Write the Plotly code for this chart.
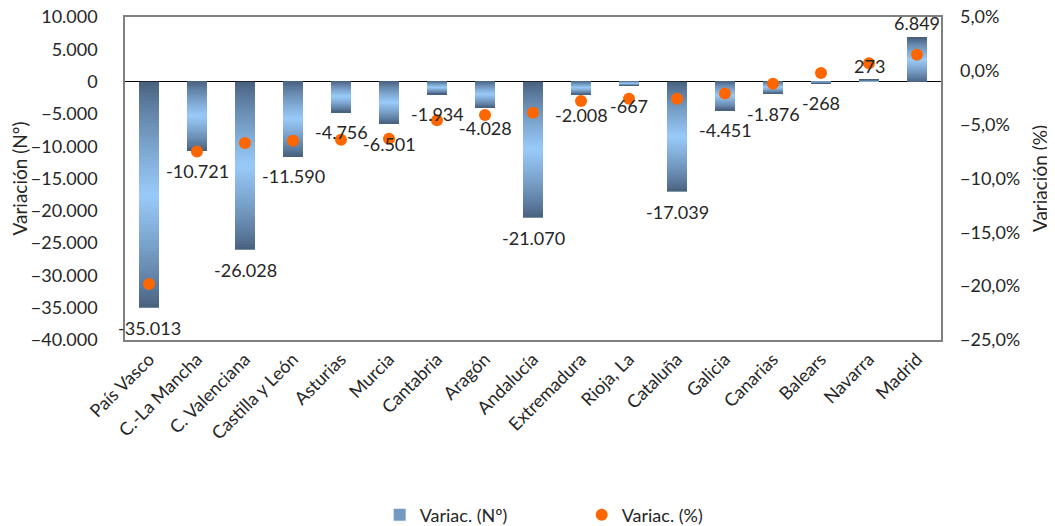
import plotly.graph_objects as go

# datos por comunidad autónoma
comunidades = ["País Vasco", "C.-La Mancha", "C. Valenciana", "Castilla y León", "Asturias",
               "Murcia", "Cantabria", "Aragón", "Andalucía", "Extremadura", "Rioja, La",
               "Cataluña", "Galicia", "Canarias", "Balears", "Navarra", "Madrid"]
variac_num = [-35013, -10721, -26028, -11590, -4756, -6501, -1934, -4028, -21070,
              -2008, -667, -17039, -4451, -1876, -268, 273, 6849]
variac_pct = [-19.8, -7.5, -6.7, -6.5, -6.4, -6.3, -4.6, -4.1, -3.9,
              -2.8, -2.6, -2.6, -2.1, -1.2, -0.2, 0.7, 1.5]

FONT = "Lato"
TXT = "#262626"
dark = (70, 94, 124)
light = (153, 203, 250)

fig = go.Figure()

# barras con degradado vertical (oscuro en los extremos, claro en el centro):
# cada barra se parte en tramos; cada tramo solapa un poco el siguiente
n_seg = 60
for k in range(n_seg):
    t = (k + 0.5) / n_seg
    f = (1 - abs(2 * t - 1)) ** 0.8
    col = "rgb(%d,%d,%d)" % tuple(int(d + (l - d) * f) for d, l in zip(dark, light))
    top = min(k + 1.5, n_seg)
    fig.add_trace(go.Bar(
        x=comunidades,
        y=[v * (top - k) / n_seg for v in variac_num],
        base=[v * k / n_seg for v in variac_num],
        width=20 / 48,
        marker=dict(color=col, line=dict(width=0)),
        name="Variac. (Nº)",
        showlegend=(k == 14),
        legendrank=1,
        hoverinfo="skip",
    ))

fig.add_trace(go.Scatter(
    x=comunidades, y=variac_pct, yaxis="y2", mode="markers",
    marker=dict(color="#ff6600", size=12),
    name="Variac. (%)", legendrank=2,
))

# etiquetas de valor
for c, v in zip(comunidades, variac_num):
    fig.add_annotation(
        x=c, y=v, text=f"{v:,}".replace(",", "."), showarrow=False,
        yshift=-20 if v < 0 else 14, font=dict(family=FONT, size=18, color=TXT),
    )

# la página tiene 8 px de margen en el body: la figura se desplaza 8 px
fig.update_layout(
    width=1047, height=518,
    margin=dict(l=117, r=114, t=9, b=186, autoexpand=False),
    paper_bgcolor="white", plot_bgcolor="white",
    barmode="overlay",
    separators=",.",
    font=dict(family=FONT, size=18, color=TXT),
    showlegend=True,
    legend=dict(orientation="h", xref="container", x=0.355, xanchor="left",
                yref="container", y=0.021, yanchor="middle",
                font=dict(size=18), itemwidth=30, entrywidth=157,
                traceorder="normal"),
    xaxis=dict(tickangle=-45, showline=True, linecolor="#808080", linewidth=1.5,
               mirror=True, ticks="", showgrid=False, tickfont=dict(size=18),
               range=[-0.5, len(comunidades) - 0.5], automargin=False),
    yaxis=dict(range=[-40000, 10000], dtick=5000, tickformat=",d", showgrid=False,
               zeroline=True, zerolinecolor="black", zerolinewidth=1,
               showline=True, linecolor="#808080", linewidth=1.5, mirror=True,
               ticks="", ticklabelstandoff=22, ticklabeloverflow="allow",
               automargin=False,
               title=dict(text="Variación (Nº)", standoff=6, font=dict(size=19))),
    yaxis2=dict(overlaying="y", side="right", range=[-25, 5], dtick=5,
                tickformat=".1f", ticksuffix="%", showgrid=False, zeroline=False,
                ticks="", ticklabelstandoff=18, ticklabeloverflow="allow",
                automargin=False,
                title=dict(text="Variación (%)", standoff=14, font=dict(size=19))),
)

fig.write_html("out.html")
